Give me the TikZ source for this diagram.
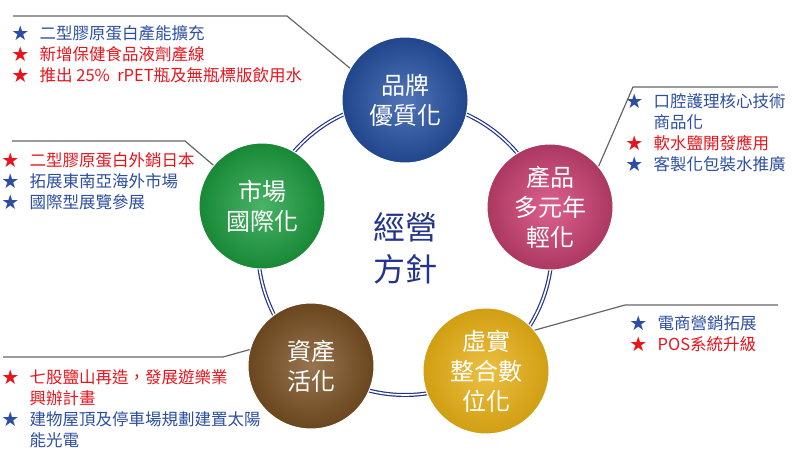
\documentclass[tikz,border=0pt]{standalone}
\usepackage{fontspec}
\setmainfont{Noto Sans CJK TC}
\definecolor{navy}{RGB}{36,52,140}
\definecolor{listblue}{RGB}{44,78,160}
\definecolor{listred}{RGB}{232,20,28}
\definecolor{cblue}{RGB}{38,82,165}
\definecolor{cpink}{RGB}{214,70,120}
\definecolor{cyellow}{RGB}{232,176,20}
\definecolor{cbrown}{RGB}{125,82,36}
\definecolor{cgreen}{RGB}{28,160,64}
\newcommand{\itm}[2]{{\color{#1}★\hspace{11pt}#2}}
\newcommand{\cont}[2]{{\color{#1}\phantom{★}\hspace{11pt}#2}}
\tikzset{callout/.style={draw=gray!80!black, line width=1.2pt},
  goal/.style={circle, minimum size=126pt, inner sep=0pt, draw=white, line width=1pt,
    text=white, align=center, font=\fontsize{24}{30}\selectfont},
  list/.style={anchor=north west, align=left, inner sep=0pt, font=\fontsize{16.5}{21}\selectfont}}
\begin{document}
\begin{tikzpicture}[x=1pt, y=-1pt]
	\useasboundingbox (0,0) rectangle (800,470);

	% Ring and centre
	\coordinate (hub) at (405,248);
	\draw[navy, line width=4pt] (hub) circle (147);
	\draw[white, line width=1.6pt] (hub) circle (147);
	\node[text=navy, align=center, font=\fontsize{32}{42}\selectfont] (core) at (hub) {經營\\方針};

	% Goals
	\node[goal, inner color=cblue!80!white, outer color=cblue!85!black] (brand) at (405,100) {品牌\\優質化};
	\node[goal, inner color=cpink!85!white, outer color=cpink!80!black] (youth) at (550,207) {產品\\多元年\\輕化};
	\node[goal, inner color=cyellow!80!white, outer color=cyellow!90!black] (retail) at (486,371) {虛實\\整合數\\位化};
	\node[goal, inner color=cbrown!80!white, outer color=cbrown!85!black] (asset) at (311,366) {資產\\活化};
	\node[goal, inner color=cgreen!80!white, outer color=cgreen!85!black] (market) at (262,206) {市場\\國際化};

	% Callouts
	\coordinate (c1a) at (13,16);  \coordinate (c1b) at (287,16);
	\coordinate (c2a) at (12,141); \coordinate (c2b) at (185,141);
	\coordinate (c3a) at (3,357);  \coordinate (c3b) at (223,357);
	\coordinate (c4a) at (778,87); \coordinate (c4b) at (633,87);
	\coordinate (c5a) at (778,305); \coordinate (c5b) at (625,305);
	\draw[callout] (c1a) -- (c1b) -- (brand.150);
	\draw[callout] (c2a) -- (c2b) -- (market.140);
	\draw[callout] (c3a) -- (c3b) -- (asset.165);
	\draw[callout] (c4a) -- (c4b) -- (youth.40);
	\draw[callout] (c5a) -- (c5b) -- (retail.40);

	% Lists
	\node[list] (brandlist) at (12,25) {\itm{listblue}{二型膠原蛋白產能擴充}\\ \itm{listred}{新增保健食品液劑產線}\\ \itm{listred}{推出 25\%\ \ rPET瓶及無瓶標版飲用水}};
	\node[list] (marketlist) at (2,152) {\itm{listred}{二型膠原蛋白外銷日本}\\ \itm{listblue}{拓展東南亞海外市場}\\ \itm{listblue}{國際型展覽參展}};
	\node[list] (assetlist) at (2,369) {\itm{listred}{七股鹽山再造，發展遊樂業}\\ \cont{listred}{興辦計畫}\\ \itm{listblue}{建物屋頂及停車場規劃建置太陽}\\ \cont{listblue}{能光電}};
	\node[list] (youthlist) at (626,93) {\itm{listblue}{口腔護理核心技術}\\ \cont{listblue}{商品化}\\ \itm{listred}{軟水鹽開發應用}\\ \itm{listblue}{客製化包裝水推廣}};
	\node[list] (retaillist) at (630,315) {\itm{listblue}{電商營銷拓展}\\ \itm{listred}{POS系統升級}};
\end{tikzpicture}
\end{document}
